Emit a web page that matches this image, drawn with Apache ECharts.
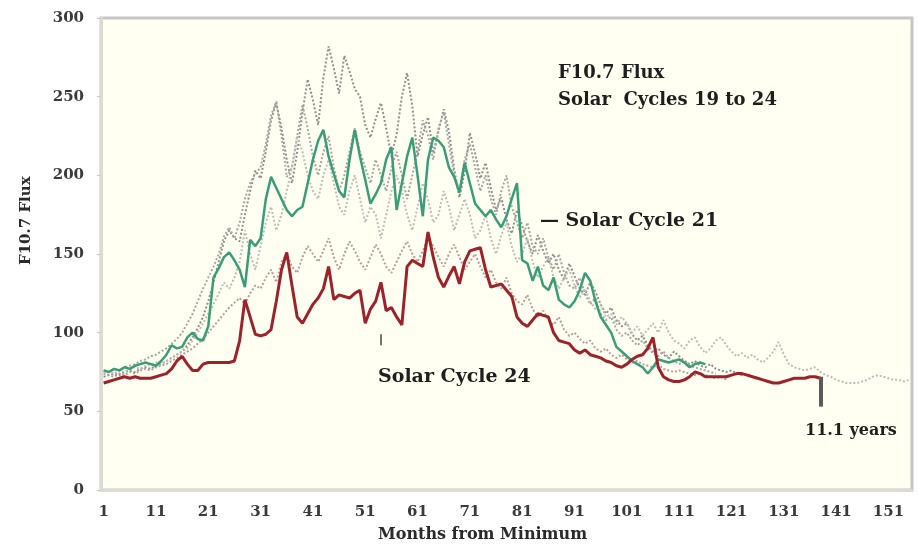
<!DOCTYPE html>
<html><head><meta charset="utf-8">
<script src="https://cdn.jsdelivr.net/npm/echarts@6/dist/echarts.min.js"></script>
<style>html,body{margin:0;padding:0;background:#fff}#c{width:919px;height:552px}</style>
</head><body><div id="c"></div>
<script>
// Months from minimum (category axis)
var months = [];
for (var i = 1; i <= 155; i++) months.push(String(i));
var yTicks = [0, 50, 100, 150, 200, 250, 300];

// Solar Cycle 24 (dark red)
var cycle24 = [68,69,70,71,72,71,72,71,71,71,72,73,74,77,82,85,80,76,76,80,
 81,81,81,81,81,82,95,121,110,99,98,99,102,120,140,151,130,110,106,112,
 118,122,128,142,121,124,123,122,125,127,106,115,120,132,114,116,110,105,142,146,
 144,142,164,148,135,129,136,142,131,145,152,153,154,140,129,130,131,127,123,110,
 106,104,108,112,111,110,100,95,94,93,89,87,89,86,85,84,82,81,79,78,
 80,83,85,86,90,97,78,72,70,69,69,70,72,75,74,72,72,72,72,72,
 73,74,74,73,72,71,70,69,68,68,69,70,71,71,71,72,72,71];

// Solar Cycle 21 (green)
var cycle21 = [76,75,77,76,78,77,79,80,81,80,79,82,86,92,90,91,97,100,96,95,
 104,135,141,148,151,146,140,129,159,155,160,185,199,192,185,178,174,178,180,195,
 210,222,229,212,201,190,186,210,229,212,197,182,188,195,210,218,178,195,212,224,
 200,174,210,224,222,218,205,199,189,208,195,182,178,174,178,172,167,174,185,195,
 146,144,133,142,130,127,135,121,118,116,120,127,138,133,120,110,105,100,91,88,
 85,82,80,78,74,78,83,82,81,82,83,81,78,80,81,80];

// Solar Cycle 19 (grey dotted)
var cycle19 = [72,73,74,73,75,76,75,77,78,77,79,80,82,84,86,88,92,97,103,110,
 120,132,145,158,165,160,158,175,190,203,198,215,235,246,230,210,195,215,240,261,
 248,232,262,282,268,252,276,266,255,250,232,224,236,246,230,212,226,250,265,244,
 212,226,237,214,228,242,228,204,186,202,227,214,198,208,192,178,186,172,163,178,
 168,158,150,162,152,144,150,140,134,144,136,128,124,132,126,118,112,116,108,104,
 106,99,95,98,92,88,90,86,84,88,85,82,80,82,79,78,80,77,76,75,
 76,74,73,74,72,71];

// Solar Cycle 22 (grey dotted)
var cycle22 = [76,75,77,76,78,79,80,82,83,85,86,88,90,93,96,100,106,112,120,128,
 135,142,150,161,167,160,170,185,195,201,205,220,238,247,225,199,205,225,245,230,
 212,200,215,225,205,190,200,215,230,215,205,195,210,200,190,205,215,200,185,200,
 215,235,225,210,230,240,220,200,190,210,220,205,190,200,185,175,190,200,180,170,
 160,170,155,150,160,148,140,150,138,130,128,135,125,118,122,112,108,110,102,98,
 100,95,92,95,90,87,85,88,84,82,80,82,79,78,77,76,75,74];

// Solar Cycle 20 (reddish grey dotted)
var cycle20 = [74,73,72,74,73,75,74,76,77,76,78,79,80,82,84,86,88,90,93,96,
 100,104,108,112,116,119,122,118,125,130,128,135,140,132,145,150,142,138,148,155,
 150,145,152,160,148,140,150,158,152,145,140,148,156,150,142,138,145,152,158,150,
 145,152,160,155,148,142,150,156,148,140,145,150,142,135,140,132,128,135,125,120,
 118,124,115,110,114,108,105,110,102,98,100,96,93,95,90,88,90,86,84,86,
 83,81,82,80,79,78,80,77,76,75,76,75,74,73,74,73,72,71,72,70];

// Solar Cycle 23 (light grey dotted, long tail)
var cycle23 = [74,75,74,76,75,77,78,77,79,80,81,80,82,84,86,88,90,95,100,106,
 112,118,125,132,128,135,145,165,150,140,155,170,180,165,175,190,205,225,215,200,
 190,185,200,210,195,180,175,190,200,185,170,180,175,160,175,190,200,190,175,165,
 180,195,185,170,175,190,180,165,175,185,175,160,165,175,160,150,162,170,155,145,
 150,160,145,135,142,148,135,128,135,140,130,122,128,120,115,118,110,112,105,110,
 106,100,104,98,102,106,100,108,100,95,93,90,95,97,91,87,90,95,97,92,
 88,85,87,84,86,83,81,84,88,94,86,80,78,77,76,77,78,75,73,72,
 70,69,68,68,68,69,70,72,73,72,71,70,70,69,70];

// Annotation marks: end of cycle 24 bar (month, from value, to value) and pointer
var endBar = {month: '138', from: 72, to: 53};
var pointer = {month: '54', from: 99, to: 92};

var SERIF = '"DejaVu Serif", "Liberation Serif", serif';
var chart = echarts.init(document.getElementById('c'), null, {renderer: 'canvas'});

function dotted(name, data, color) {
  return {name: name, type: 'line', data: data, symbol: 'none', silent: true,
    lineStyle: {color: color, width: 2, type: [2, 2]}, z: 2};
}

chart.setOption({
  animation: false,
  backgroundColor: '#ffffff',
  grid: {left: 101, right: 7, top: 18, bottom: 62, show: true,
    backgroundColor: '#fffff2', borderColor: '#c6c6c6', borderWidth: 3},
  xAxis: {
    type: 'category', data: months, boundaryGap: true,
    axisLine: {lineStyle: {color: '#dcdcd4', width: 3}},
    axisTick: {interval: 9, alignWithLabel: true, length: 4, inside: true, lineStyle: {color: '#c8c8c8'}},
    axisLabel: {interval: 9, color: '#3a3a3a', fontFamily: SERIF, fontWeight: 'bold', fontSize: 15, margin: 15},
    splitLine: {show: false}
  },
  yAxis: {
    type: 'value', min: yTicks[0], max: yTicks[yTicks.length - 1], interval: 50,
    axisLine: {show: true, lineStyle: {color: '#dcdcd4', width: 3}},
    axisTick: {show: true, length: 4, lineStyle: {color: '#c8c8c8'}},
    axisLabel: {color: '#3a3a3a', fontFamily: SERIF, fontWeight: 'bold', fontSize: 15, margin: 17},
    splitLine: {show: false}
  },
  series: [
    dotted('Solar Cycle 19', cycle19, '#8f8f8f'),
    dotted('Solar Cycle 22', cycle22, '#a6a6a6'),
    dotted('Solar Cycle 20', cycle20, '#b99c9c'),
    dotted('Solar Cycle 23', cycle23, '#bcbcbc'),
    {name: 'Solar Cycle 21', type: 'line', data: cycle21, symbol: 'none', z: 3,
      lineStyle: {color: '#3a9d78', width: 2.5}},
    {name: 'Solar Cycle 24', type: 'line', data: cycle24, symbol: 'none', z: 4,
      lineStyle: {color: '#9e2229', width: 3},
      markLine: {silent: true, symbol: 'none', label: {show: false},
        data: [
          [{coord: [endBar.month, endBar.from], lineStyle: {color: '#5a5a5a', width: 4, type: 'solid'}},
           {coord: [endBar.month, endBar.to]}],
          [{coord: [pointer.month, pointer.from], lineStyle: {color: '#444', width: 1.5, type: 'solid'}},
           {coord: [pointer.month, pointer.to]}]
        ]}}
  ],
  graphic: [
    {type: 'text', left: 558, top: 60, style: {text: 'F10.7 Flux\nSolar  Cycles 19 to 24', fill: '#1e1e1e',
      font: 'bold 18px ' + SERIF, lineHeight: 27}},
    {type: 'text', left: 540, top: 212, style: {text: '— Solar Cycle 21', fill: '#1e1e1e', font: 'bold 19px ' + SERIF}},
    {type: 'text', left: 378, top: 368, style: {text: 'Solar Cycle 24', fill: '#1e1e1e', font: 'bold 19px ' + SERIF}},
    {type: 'text', left: 805, top: 423, style: {text: '11.1 years', fill: '#1e1e1e', font: 'bold 16px ' + SERIF}},
    {type: 'text', left: 378, top: 527, style: {text: 'Months from Minimum', fill: '#2a2a2a', font: 'bold 16px ' + SERIF}},
    {type: 'text', x: 19, y: 265, rotation: Math.PI / 2, style: {text: 'F10.7 Flux', fill: '#2a2a2a', font: 'bold 15px ' + SERIF}}
  ]
});
</script></body></html>
